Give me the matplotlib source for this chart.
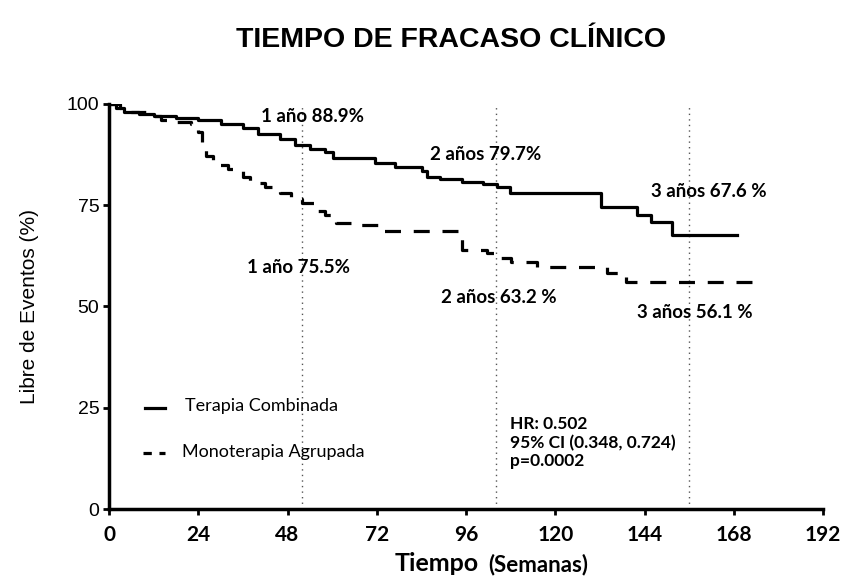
import matplotlib
matplotlib.use('Agg')
import matplotlib.pyplot as plt

# Terapia Combinada (solid)
comb_t = [0, 2, 4, 8, 12, 18, 24, 30, 36, 40, 46, 50, 54, 58, 60.3, 71.5, 76.9, 84.1,
	85.4, 89, 95, 100.6, 104.2, 107.8, 132.3, 141.9, 145.7, 151.3, 169]
comb_v = [100, 99, 98, 97.5, 97, 96.5, 96, 95, 94, 92.5, 91.2, 89.8, 88.9, 88.2, 86.7, 85.4,
	84.5, 83.5, 82.0, 81.4, 80.8, 80.1, 79.5, 78.0, 74.6, 72.6, 70.9, 67.6, 67.6]

# Monoterapia Agrupada (dashed)
mono_t = [0, 3, 6, 10, 14, 18, 22, 24, 25, 26, 28, 32, 36, 38, 42, 46, 49, 52, 55, 58,
	61, 67, 73, 95, 101.6, 104.6, 108, 115, 134, 139, 176]
mono_v = [100, 99, 98, 97, 96, 95.5, 95, 93, 90, 87, 85, 84, 82, 80.5, 79.5, 78, 76.5,
	75.5, 73.6, 72.6, 70.7, 70.1, 68.7, 64.0, 63.2, 62.0, 61.0, 59.8, 58.3, 56.1, 56.1]

xticks = [0, 24, 48, 72, 96, 120, 144, 168, 192]
yticks = [0, 25, 50, 75, 100]
year_lines = [52, 104, 156]

# label text, x, y (data units)
notes = [
	('1 año 88.9%', 41, 96.8),
	('2 años 79.7%', 86.3, 87.4),
	('3 años 67.6 %', 145.7, 78.3),
	('1 año 75.5%', 37.1, 59.5),
	('2 años 63.2 %', 89.2, 52.3),
	('3 años 56.1 %', 142, 48.4),
]

fig = plt.figure(figsize=(8.45, 5.86), dpi=100)
ax = fig.add_axes([0.129, 0.131, 0.845, 0.692])

for xv in year_lines:
	ax.axvline(xv, color='#555555', lw=1, ls=(0, (1, 3)), zorder=1)

ax.step(comb_t, comb_v, where='post', color='black', lw=2.3, zorder=3)
ax.step(mono_t, mono_v, where='post', color='black', lw=2.3, ls=(0, (5, 4)), zorder=3)

nfont = ['Lato', 'DejaVu Sans']
for txt, xv, yv in notes:
	ax.text(xv, yv, txt, fontsize=13.5, fontweight='bold', family=nfont, va='center', ha='left')

# legend drawn by hand
ax.plot([9.7, 15], [24.9, 24.9], color='black', lw=2.3)
ax.text(20.5, 25.5, 'Terapia Combinada', fontsize=13, family=nfont, va='center')
ax.plot([9.2, 15], [13.8, 13.8], color='black', lw=2.3, ls=(0, (2.6, 2.4)))
ax.text(19.5, 14.0, 'Monoterapia Agrupada', fontsize=13, family=nfont, va='center')

ax.text(107.8, 21.0, 'HR: 0.502', fontsize=12.5, fontweight='bold', family=nfont, va='center')
ax.text(107.8, 16.4, '95% CI (0.348, 0.724)', fontsize=12.5, fontweight='bold', family=nfont, va='center')
ax.text(107.8, 11.9, 'p=0.0002', fontsize=12.5, fontweight='bold', family=nfont, va='center')

ax.set_xlim(0, 192)
ax.set_ylim(0, 100)
ax.set_xticks(xticks)
ax.set_yticks(yticks)
ax.set_xticklabels([str(v) for v in xticks], fontsize=15, fontweight='bold', family=nfont)
ax.set_yticklabels([str(v) for v in yticks], fontsize=14, family='Liberation Sans')
ax.tick_params(axis='both', direction='out', length=4, width=2, pad=3)
ax.tick_params(axis='x', pad=7)
for s in ['top', 'right']:
	ax.spines[s].set_visible(False)
for s in ['left', 'bottom']:
	ax.spines[s].set_linewidth(2.5)

ax.set_ylabel('Libre de Eventos (%)', fontsize=15, family='Liberation Sans', labelpad=20)

# x label: "Tiempo" slightly larger than "(Semanas)"
fig.text(0.467, 0.025, 'Tiempo', ha='left', va='baseline', fontsize=18, fontweight='bold', family=nfont)
fig.text(0.578, 0.025, '(Semanas)', ha='left', va='baseline', fontsize=16, fontweight='bold', family=nfont)

fig.text(0.534, 0.932, 'TIEMPO DE FRACASO CLÍNICO', ha='center', va='center',
	fontsize=20.5, fontweight='bold', family='Liberation Sans')

fig.savefig('out.png', dpi=100)
